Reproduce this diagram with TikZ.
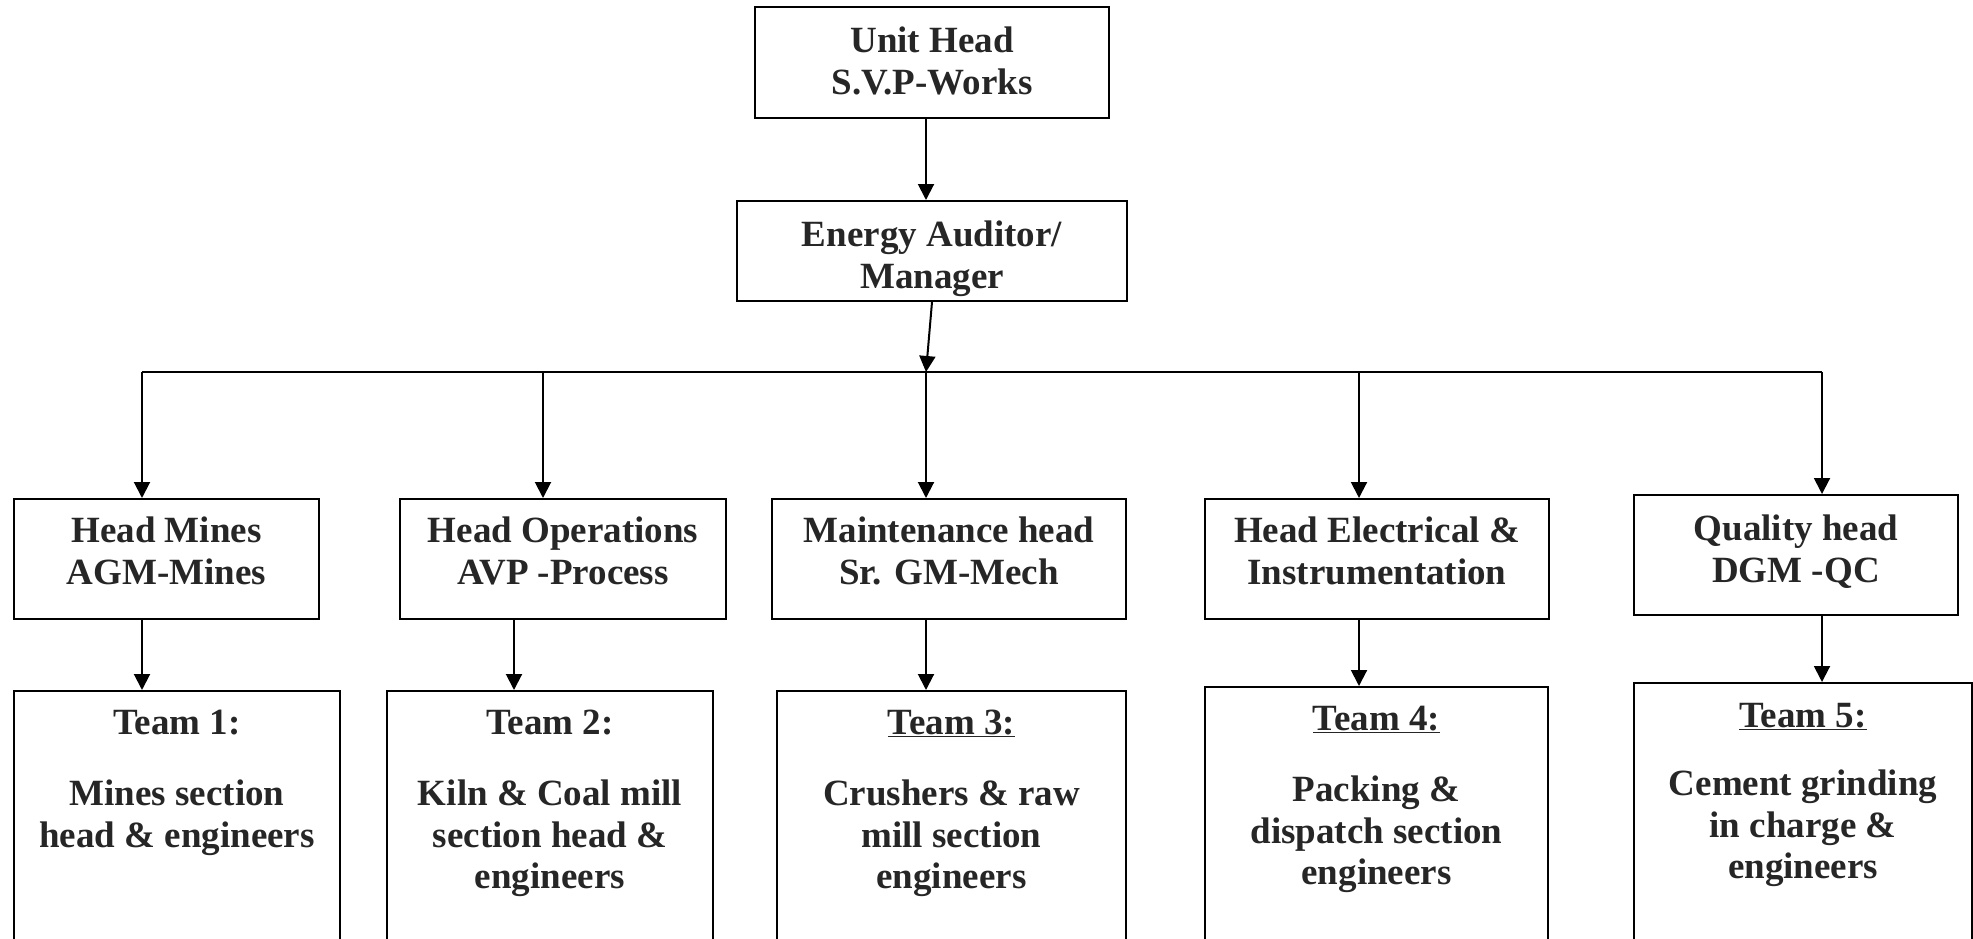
\documentclass[tikz,border=0pt]{standalone}
\usepackage{fontspec}
\setmainfont{Liberation Serif}
\usetikzlibrary{arrows.meta}
\definecolor{txt}{HTML}{262626}
\tikzset{
  box/.style={draw=black, line width=2pt, inner sep=0pt, fill=none},
  lbl/.style={inner sep=0pt, anchor=north, align=center, text=txt,
    font=\fontsize{37pt}{41.5pt}\selectfont\bfseries},
  arr/.style={line width=2pt, -{Triangle[length=16pt,width=16pt]}},
  bus/.style={line width=2pt},
}
\newcommand{\boxat}[5]{% name, x1, y1, x2, y2
  \node[box, minimum width={(#4-#2)*1pt}, minimum height={(#5-#3)*1pt}] (#1) at ({(#2+#4)/2},{(#3+#5)/2}) {};}
\begin{document}
\begin{tikzpicture}[x=1pt,y=-1pt]
\useasboundingbox (0,0) rectangle (1973,939);
% boxes
\boxat{unit}{755}{7}{1109}{118}
\boxat{energy}{737}{201}{1127}{301}
\boxat{mines}{14}{499}{319}{619}
\boxat{ops}{400}{499}{726}{619}
\boxat{maint}{772}{499}{1126}{619}
\boxat{elec}{1205}{499}{1549}{619}
\boxat{qual}{1634}{495}{1958}{615}
\boxat{t1}{14}{691}{340}{990}
\boxat{t2}{387}{691}{713}{990}
\boxat{t3}{777}{691}{1126}{990}
\boxat{t4}{1205}{687}{1548}{990}
\boxat{t5}{1634}{683}{1972}{990}
% texts
\node[lbl] (unitT) at (932,27) {Unit Head\\S.V.P-Works};
\node[lbl] (energyT) at (932,221) {Energy Auditor/\\Manager};
\node[lbl] (minesT) at (166.5,517) {Head Mines\\AGM-Mines};
\node[lbl] (opsT) at (563,517) {Head Operations\\AVP -Process};
\node[lbl] (maintT) at (949,517) {Maintenance head\\Sr. GM-Mech};
\node[lbl] (elecT) at (1377,517) {Head Electrical \&\\Instrumentation};
\node[lbl] (qualT) at (1796,515) {Quality head\\DGM -QC};
\node[lbl] (t1T) at (177,710) {Team 1:\\[29.5pt]Mines section\\head \& engineers};
\node[lbl] (t2T) at (550,710) {Team 2:\\[29.5pt]Kiln \& Coal mill\\section head \&\\engineers};
\node[lbl] (t3T) at (951.5,710) {\underline{Team 3:}\\[29.5pt]Crushers \& raw\\mill section\\engineers};
\node[lbl] (t4T) at (1376.5,706) {\underline{Team 4:}\\[29.5pt]Packing \&\\dispatch section\\engineers};
\node[lbl] (t5T) at (1803,703) {\underline{Team 5:}\\[27pt]Cement grinding\\in charge \&\\engineers};
% bus junctions
\coordinate (b1) at (142,372);
\coordinate (b2) at (543,372);
\coordinate (b3) at (926,372);
\coordinate (b4) at (1359,372);
\coordinate (b5) at (1822,372);
\coordinate (d2) at (514,372);
% connectors
\draw[arr] (b3 |- unit.south) -- (b3 |- energy.north);
\draw[arr] (energy.south) -- (b3);
\draw[bus] (b1) -- (b5);
\draw[arr] (b1) -- (b1 |- mines.north);
\draw[arr] (b2) -- (b2 |- ops.north);
\draw[arr] (b3) -- (b3 |- maint.north);
\draw[arr] (b4) -- (b4 |- elec.north);
\draw[arr] (b5) -- (b5 |- qual.north);
\draw[arr] (b1 |- mines.south) -- (b1 |- t1.north);
\draw[arr] (d2 |- ops.south) -- (d2 |- t2.north);
\draw[arr] (b3 |- maint.south) -- (b3 |- t3.north);
\draw[arr] (b4 |- elec.south) -- (b4 |- t4.north);
\draw[arr] (b5 |- qual.south) -- (b5 |- t5.north);
\end{tikzpicture}
\end{document}
